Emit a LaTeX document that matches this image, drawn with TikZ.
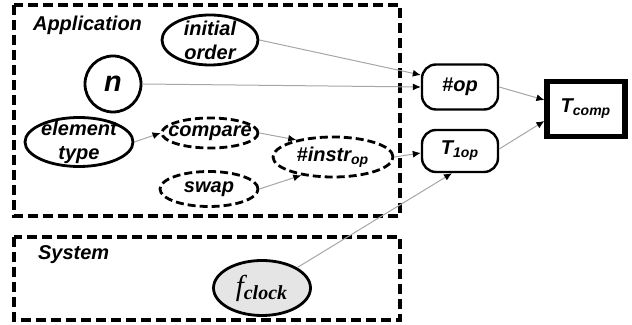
\documentclass[tikz,border=0pt]{standalone}
\usepackage{fontspec}
\setmainfont{Liberation Sans}
\newfontfamily\serifit{Liberation Serif}
\usetikzlibrary{arrows.meta, shapes.geometric}

\begin{document}
\begin{tikzpicture}[
  x=0.5pt, y=-0.5pt,
  every node/.style={font=\normalsize\bfseries\itshape},
  param/.style={ellipse, draw=black, line width=1.4pt, inner xsep=-6pt, inner ysep=-4pt,
    align=center},
  derived/.style={param, inner xsep=-7pt, inner ysep=-2pt, dash pattern=on 4pt off 2pt},
  quantity/.style={rectangle, rounded corners=7pt, draw=black, line width=1.2pt,
    minimum width=38pt, inner sep=0pt},
  result/.style={rectangle, draw=black, line width=2.6pt, inner sep=0pt,
    minimum width=39pt, minimum height=27.5pt},
  group/.style={draw=black, line width=1.7pt, dash pattern=on 5pt off 2.5pt},
  arrow/.style={-{Latex[length=4pt, width=3.5pt, color=black]}, draw=gray!70, line width=0.5pt}
]
\useasboundingbox (0,0) rectangle (632,325);

% Groups
\draw[group] (14,5) rectangle (400,216);
\draw[group] (14,237) rectangle (400,320);
\node[anchor=west] (applbl) at (26,25) {Application};
\node[anchor=west] (syslbl) at (31,255) {System};

% Application parameters
\node[param, minimum width=48pt, minimum height=25pt] (order) at (210,40)
  {initial\\[0pt]order};
\node[param, circle, inner sep=0pt, minimum size=28pt, font=\Large\bfseries\itshape] (n)
  at (113,84) {n};
\node[param, minimum width=54pt, minimum height=24.5pt] (etype) at (79,142)
  {element\\[0pt]type};
\node[derived, minimum width=48pt, minimum height=15pt] (compare) at (210,133) {compare};
\node[derived, minimum width=49pt, minimum height=17.5pt] (swap) at (209,189) {swap};
\node[derived, minimum width=60pt, minimum height=20pt] (instr) at (333,157)
  {\#instr\textsubscript{op}};

% System parameter
\node[param, inner sep=0pt, fill=gray!20, minimum width=48.5pt, minimum height=27.5pt,
  font=\serifit\Large\itshape] (fclock) at (262,288) {f\textsubscript{\bfseries clock}};

% Model quantities
\node[quantity, minimum height=22.5pt] (nop) at (460,87) {\#op};
\node[quantity, minimum height=21pt] (t1op) at (460,151) {T\textsubscript{1op}};
\node[result] (tcomp) at (586,109) {T\textsubscript{comp}};

% Dependencies
\draw[arrow] (order.east) -- ([yshift=6pt]nop.west);
\draw[arrow] (n.east) -- (nop.west);
\draw[arrow] (etype.east) -- (compare.west);
\draw[arrow] (compare.east) -- (instr.155);
\draw[arrow] (swap.east) -- (instr.210);
\draw[arrow] (instr.east) -- ([yshift=-1pt]t1op.west);
\draw[arrow] (fclock.north east) -- ([xshift=-4pt]t1op.south);
\draw[arrow] (nop.east) -- ([yshift=4.5pt]tcomp.west);
\draw[arrow] ([yshift=1pt]t1op.east) -- ([yshift=-6pt]tcomp.west);

\end{tikzpicture}
\end{document}
